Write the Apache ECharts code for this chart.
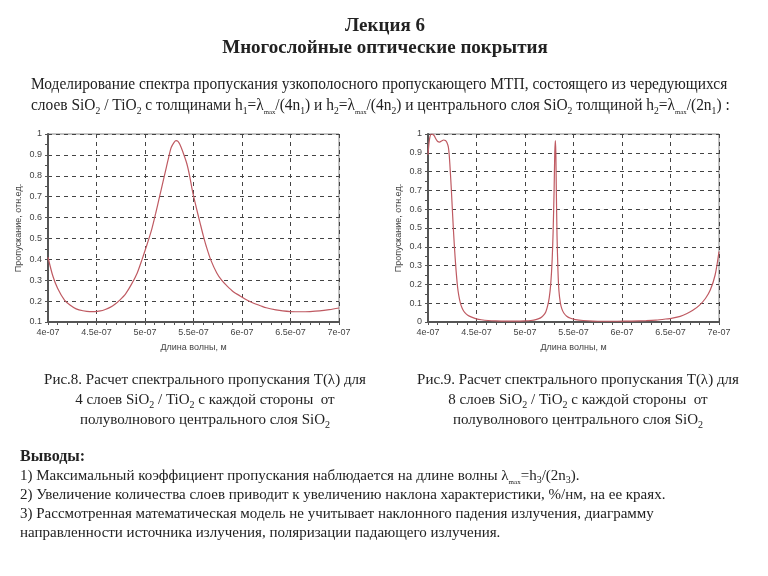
<!DOCTYPE html>
<html>
<head>
<meta charset="utf-8">
<script src="https://cdn.jsdelivr.net/npm/echarts@6/dist/echarts.min.js"></script>
<style>
  html, body { margin: 0; padding: 0; background: #fff; }
  #main { width: 768px; height: 576px; }
</style>
</head>
<body>
<div id="main"></div>
<script>
// wavelength in nm, transmission in rel. units
var wl4 = [400, 405, 410, 417, 423, 429, 436, 443, 448, 454, 459, 464, 469, 474, 480, 486, 492, 497, 502, 507, 511, 515, 519, 522, 525, 527, 530, 532, 534, 536, 539, 543, 546, 549, 553, 557, 560, 563, 568, 574, 579, 584, 591, 598, 605, 612, 619, 625, 635, 642, 650, 660, 670, 680, 690, 700];
var t4 = [0.41, 0.32, 0.26, 0.205, 0.18, 0.163, 0.154, 0.15, 0.15, 0.153, 0.16, 0.17, 0.185, 0.205, 0.235, 0.28, 0.335, 0.4, 0.47, 0.545, 0.62, 0.7, 0.78, 0.84, 0.9, 0.935, 0.96, 0.968, 0.965, 0.95, 0.915, 0.86, 0.8, 0.725, 0.645, 0.57, 0.515, 0.465, 0.395, 0.335, 0.3, 0.275, 0.245, 0.225, 0.205, 0.19, 0.178, 0.168, 0.158, 0.153, 0.15, 0.149, 0.15, 0.153, 0.159, 0.167];

var wl8 = [400, 401, 402, 403.5, 405, 406.5, 408, 410, 412, 414, 416, 418, 419.5, 421, 422, 423, 424, 425, 426, 427, 428, 429, 430, 431, 432.5, 434, 436, 438, 441, 445, 450, 455, 462, 470, 480, 490, 500, 506, 512, 516, 519, 521.5, 523.5, 525, 526.5, 528, 529, 530, 530.7, 531.3, 531.8, 532.3, 533, 534, 535, 536.5, 538, 540, 543, 547, 552, 560, 570, 580, 595, 610, 625, 635, 645, 652, 660, 667, 673, 680, 686, 691, 696, 700];
var t8 = [0.89, 0.95, 0.985, 1.0, 0.998, 0.99, 0.975, 0.96, 0.957, 0.963, 0.968, 0.965, 0.955, 0.93, 0.88, 0.8, 0.71, 0.61, 0.51, 0.42, 0.34, 0.27, 0.21, 0.165, 0.12, 0.09, 0.065, 0.05, 0.036, 0.026, 0.017, 0.012, 0.008, 0.006, 0.005, 0.005, 0.006, 0.008, 0.014, 0.022, 0.035, 0.055, 0.09, 0.13, 0.2, 0.33, 0.48, 0.7, 0.9, 0.965, 0.9, 0.7, 0.46, 0.27, 0.165, 0.1, 0.07, 0.048, 0.031, 0.02, 0.013, 0.008, 0.005, 0.004, 0.004, 0.005, 0.007, 0.01, 0.016, 0.021, 0.03, 0.045, 0.062, 0.09, 0.125, 0.17, 0.25, 0.375];

var xTickLabels = ['4e-07', '4.5e-07', '5e-07', '5.5e-07', '6e-07', '6.5e-07', '7e-07'];

var chart = echarts.init(document.getElementById('main'));

var serif = 'Liberation Serif';
var sans = 'Liberation Sans';
var curveColor = '#bf5a62';

var rich = {
  s: { fontFamily: serif, fontSize: 10, color: '#222', verticalAlign: 'bottom' },
  m: { fontFamily: serif, fontSize: 7, color: '#222', verticalAlign: 'bottom' },
  b: { fontFamily: serif, fontSize: 16, fontWeight: 'bold', color: '#222' }
};

function txt(x, y, text, opts) {
  opts = opts || {};
  return {
    type: 'text',
    x: x,
    y: y,
    scaleX: opts.scaleX || 1,
    style: {
      text: text,
      fill: '#222',
      font: (opts.bold ? 'bold ' : '') + (opts.size || 15) + 'px "' + serif + '"',
      align: opts.align || 'left',
      verticalAlign: 'middle',
      lineHeight: opts.lineHeight || 20,
      rich: rich
    }
  };
}

function makeX(gi) {
  return {
    type: 'value', gridIndex: gi, min: 400, max: 700, interval: 50,
    name: 'Длина волны, м', nameLocation: 'middle', nameGap: 21,
    nameTextStyle: { fontFamily: sans, fontSize: 9, color: '#444' },
    axisLine: { show: true, lineStyle: { color: '#555', width: 2 } },
    axisTick: { show: true, length: 3, lineStyle: { color: '#555' } },
    minorTick: { show: true, splitNumber: 5, length: 3, lineStyle: { color: '#555' } },
    axisLabel: {
      fontFamily: sans, fontSize: 9, color: '#444', margin: 6,
      formatter: function (v) { return xTickLabels[Math.round((v - 400) / 50)]; }
    },
    splitLine: { show: true, lineStyle: { color: '#444', type: [4, 4], width: 1 } }
  };
}

function makeY(gi, min) {
  return {
    type: 'value', gridIndex: gi, min: min, max: 1, interval: 0.1,
    name: 'Пропускание, отн.ед.', nameLocation: 'middle', nameGap: 25,
    nameTextStyle: { fontFamily: sans, fontSize: 9, color: '#444' },
    axisLine: { show: true, lineStyle: { color: '#555', width: 2 } },
    axisTick: { show: true, length: 3, lineStyle: { color: '#555' } },
    minorTick: { show: true, splitNumber: 2, length: 3, lineStyle: { color: '#555' } },
    axisLabel: {
      fontFamily: sans, fontSize: 9, color: '#444', margin: 6,
      formatter: function (v) { return String(+v.toFixed(1)); }
    },
    splitLine: { show: true, lineStyle: { color: '#444', type: [4, 4], width: 1 } }
  };
}

chart.setOption({
  backgroundColor: '#fff',
  animation: false,
  grid: [
    { left: 48, top: 134, width: 291, height: 188, show: true, borderColor: '#888', borderWidth: 1, backgroundColor: '#fff' },
    { left: 428, top: 134, width: 291, height: 188, show: true, borderColor: '#888', borderWidth: 1, backgroundColor: '#fff' }
  ],
  xAxis: [makeX(0), makeX(1)],
  yAxis: [makeY(0, 0.1), makeY(1, 0)],
  series: [
    {
      type: 'line', xAxisIndex: 0, yAxisIndex: 0, showSymbol: false, smooth: 0.3,
      lineStyle: { color: curveColor, width: 1.2 },
      data: wl4.map(function (w, i) { return [w, t4[i]]; })
    },
    {
      type: 'line', xAxisIndex: 1, yAxisIndex: 1, showSymbol: false, smooth: 0.2,
      lineStyle: { color: curveColor, width: 1.2 },
      data: wl8.map(function (w, i) { return [w, t8[i]]; })
    }
  ],
  graphic: [
    txt(385, 26, 'Лекция 6', { bold: true, size: 19, align: 'center' }),
    txt(385, 48, 'Многослойные оптические покрытия', { bold: true, size: 19, align: 'center' }),
    txt(31, 95,
      'Моделирование спектра пропускания узкополосного пропускающего МТП, состоящего из чередующихся\n' +
      'слоев SiO{s|2} / TiO{s|2} с толщинами h{s|1}=λ{m|max}/(4n{s|1}) и h{s|2}=λ{m|max}/(4n{s|2}) и центрального слоя SiO{s|2} толщиной h{s|2}=λ{m|max}/(2n{s|1}) :',
      { lineHeight: 21, size: 16, scaleX: 0.965 }),
    txt(205, 400,
      'Рис.8. Расчет спектрального пропускания T(λ) для\n' +
      '4 слоев SiO{s|2} / TiO{s|2} с каждой стороны  от\n' +
      'полуволнового центрального слоя SiO{s|2}',
      { align: 'center', lineHeight: 20 }),
    txt(578, 400,
      'Рис.9. Расчет спектрального пропускания T(λ) для\n' +
      '8 слоев SiO{s|2} / TiO{s|2} с каждой стороны  от\n' +
      'полуволнового центрального слоя SiO{s|2}',
      { align: 'center', lineHeight: 20 }),
    txt(20, 495,
      '{b|Выводы:}\n' +
      '1) Максимальный коэффициент пропускания наблюдается на длине волны λ{m|max}=h{s|3}/(2n{s|3}).\n' +
      '2) Увеличение количества слоев приводит к увеличению наклона характеристики, %/нм, на ее краях.\n' +
      '3) Рассмотренная математическая модель не учитывает наклонного падения излучения, диаграмму\n' +
      'направленности источника излучения, поляризации падающего излучения.',
      { lineHeight: 19 })
  ]
});
</script>
</body>
</html>
